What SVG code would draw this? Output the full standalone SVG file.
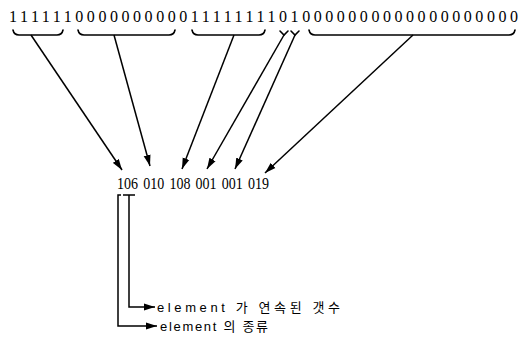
<svg xmlns="http://www.w3.org/2000/svg" width="526" height="338" viewBox="0 0 526 338">
<style>
.ln{stroke:#000;stroke-width:1.5;fill:none}
.br{stroke:#000;stroke-width:1.6;fill:none;stroke-linecap:round}
.bits{font-family:"Liberation Serif",serif;font-size:16px;fill:#000}
.num{font-family:"Liberation Serif",serif;font-size:16px;fill:#000}
.lab{font-family:"Liberation Sans","Noto Sans CJK KR",sans-serif;font-size:13px;fill:#000}
</style>
<defs>
<marker id="ah" markerUnits="userSpaceOnUse" markerWidth="12" markerHeight="8" refX="11" refY="4" orient="auto">
<path d="M0,0.5 L11,4 L0,7.5 Z" fill="#000"/>
</marker>
</defs>
<rect width="526" height="338" fill="#fff"/>
<g id="bitstring">
<text class="bits" x="9" y="22" textLength="509" lengthAdjust="spacing">111111000000000011111111010000000000000000000</text>
</g>
<g id="braces">
<path class="br" d="M13,30 Q14,35 19,35 L57,35 Q62,35 63,30"/>
<path class="br" d="M78,30 Q79,35 84,35 L169,35 Q174,35 175,30"/>
<path class="br" d="M192,30 Q193,35 198,35 L259,35 Q264,35 265,30"/>
<path class="br" d="M280,31 L284,35 L288,31"/>
<path class="br" d="M291,31 L295,35 L299,31"/>
<path class="br" d="M309,30 Q310,35 315,35 L509,35 Q514,35 515,30"/>
</g>
<g id="codes">
<text class="num" x="117" y="189" textLength="21" lengthAdjust="spacingAndGlyphs">106</text>
<text class="num" x="143.2" y="189" textLength="21" lengthAdjust="spacingAndGlyphs">010</text>
<text class="num" x="169.4" y="189" textLength="21" lengthAdjust="spacingAndGlyphs">108</text>
<text class="num" x="195.6" y="189" textLength="21" lengthAdjust="spacingAndGlyphs">001</text>
<text class="num" x="221.8" y="189" textLength="21" lengthAdjust="spacingAndGlyphs">001</text>
<text class="num" x="248" y="189" textLength="21" lengthAdjust="spacingAndGlyphs">019</text>
</g>
<g id="connectors">
<line class="ln" x1="31" y1="35" x2="122" y2="170" marker-end="url(#ah)"/>
<line class="ln" x1="114" y1="35" x2="150" y2="166" marker-end="url(#ah)"/>
<line class="ln" x1="234" y1="35" x2="182" y2="169" marker-end="url(#ah)"/>
<line class="ln" x1="284" y1="35" x2="207" y2="169" marker-end="url(#ah)"/>
<line class="ln" x1="295" y1="35" x2="235" y2="169" marker-end="url(#ah)"/>
<line class="ln" x1="413" y1="35" x2="265" y2="173" marker-end="url(#ah)"/>
<path class="ln" d="M121,195 L118,195 L118,326 L157,326" marker-end="url(#ah)"/>
<path class="ln" d="M123,195 L135,195 M129,195 L129,307 L155,307" marker-end="url(#ah)"/>
</g>
<g id="label-count">
<text class="lab" x="157" y="311.5" textLength="183" lengthAdjust="spacing">element 가 연속된  갯수</text>
</g>
<g id="label-kind">
<text class="lab" x="160" y="330.5" textLength="108" lengthAdjust="spacing">element 의  종류</text>
</g>
</svg>
